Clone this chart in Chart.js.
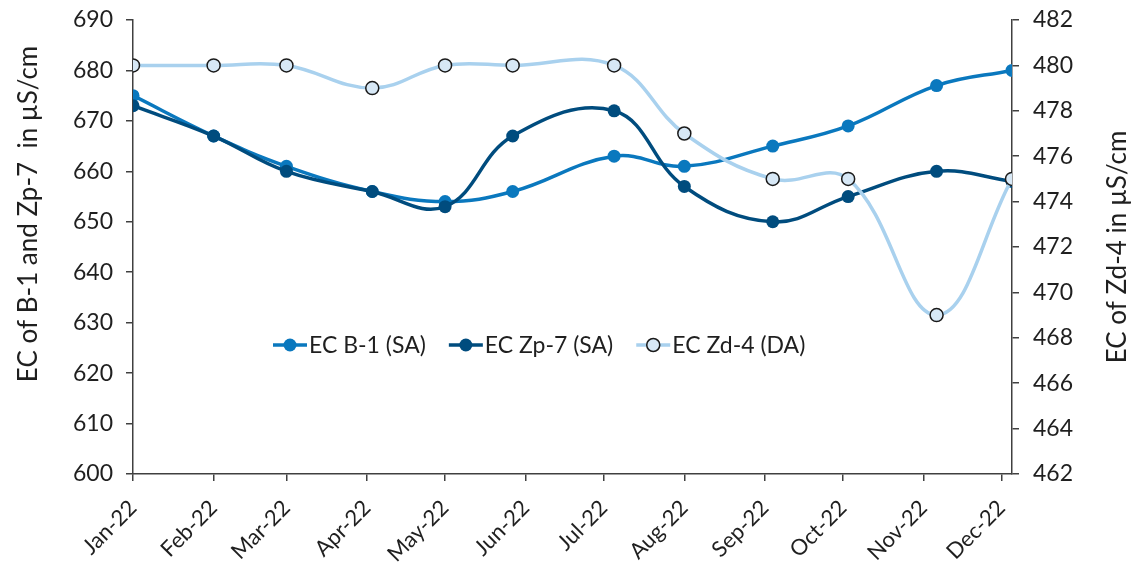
<!DOCTYPE html>
<html>
<head>
<meta charset="utf-8">
<script src="https://cdn.jsdelivr.net/npm/chart.js@4.4.1/dist/chart.umd.min.js"></script>
<style>
	html, body { margin: 0; padding: 0; background: #fff; }
	#wrap { width: 1137px; height: 565px; }
</style>
</head>
<body>
<div id="wrap"><canvas id="ec-chart" width="1137" height="565"></canvas></div>
<script>
// month ticks on the date axis
const monthLabels = ["Jan-22", "Feb-22", "Mar-22", "Apr-22", "May-22", "Jun-22",
	"Jul-22", "Aug-22", "Sep-22", "Oct-22", "Nov-22", "Dec-22"];
const monthStarts = ["2022-01-01", "2022-02-01", "2022-03-01", "2022-04-01", "2022-05-01", "2022-06-01",
	"2022-07-01", "2022-08-01", "2022-09-01", "2022-10-01", "2022-11-01", "2022-12-01"];

// sampling dates (points do not sit exactly on month starts)
const sampleDates = ["2022-01-01", "2022-02-01", "2022-03-01", "2022-04-03", "2022-05-01", "2022-05-27",
	"2022-07-05", "2022-08-01", "2022-09-04", "2022-10-03", "2022-11-06", "2022-12-05"];

const ecB1 = [675, 667, 661, 656, 654, 656, 663, 661, 665, 669, 677, 680];
const ecZp7 = [673, 667, 660, 656, 653, 667, 672, 657, 650, 655, 660, 658];
const ecZd4 = [480, 480, 480, 479, 480, 480, 480, 477, 475, 475, 469, 475];

const leftTicks = [600, 610, 620, 630, 640, 650, 660, 670, 680, 690];
const rightTicks = [462, 464, 466, 468, 470, 472, 474, 476, 478, 480, 482];

const FONT = "Lato";
const INK = "#1f1f1f";
const AXIS = "#404040";

const day0 = Date.parse("2022-01-01");
const dayOf = (d) => Math.round((Date.parse(d) - day0) / 86400000);
const pts = (vals) => vals.map((v, i) => ({ x: dayOf(sampleDates[i]), y: v }));

// axis titles drawn by hand so they can sit where Excel put them
const axisTitles = {
	id: "axisTitles",
	afterDraw(chart) {
		const ctx = chart.ctx;
		const draw = (text, cx, cy) => {
			ctx.save();
			ctx.fillStyle = INK;
			ctx.font = "26px " + FONT;
			ctx.textAlign = "center";
			ctx.textBaseline = "middle";
			ctx.translate(cx, cy);
			ctx.rotate(-Math.PI / 2);
			ctx.fillText(text, 0, 0);
			ctx.restore();
		};
		draw("EC of B-1 and Zp-7  in \u00b5S/cm", 29, 214);
		draw("EC of Zd-4 in \u00b5S/cm", 1118, 247);
	},
};

// Excel-style legend (line + marker) inside the plot area
const innerLegend = {
	id: "innerLegend",
	afterDraw(chart) {
		const ctx = chart.ctx;
		const y = 345;
		let x = 273;
		ctx.save();
		ctx.font = "23px " + FONT;
		ctx.textBaseline = "middle";
		chart.data.datasets.forEach((ds) => {
			ctx.strokeStyle = ds.borderColor;
			ctx.lineWidth = ds.borderWidth;
			ctx.beginPath();
			ctx.moveTo(x, y);
			ctx.lineTo(x + 34, y);
			ctx.stroke();
			ctx.beginPath();
			ctx.arc(x + 17, y, ds.pointRadius, 0, Math.PI * 2);
			ctx.fillStyle = ds.pointBackgroundColor;
			ctx.fill();
			if (ds.pointBorderWidth) {
				ctx.lineWidth = ds.pointBorderWidth;
				ctx.strokeStyle = ds.pointBorderColor;
				ctx.stroke();
			}
			ctx.fillStyle = INK;
			ctx.fillText(ds.label, x + 36, y + 1);
			x += 36 + ctx.measureText(ds.label).width + 23;
		});
		ctx.restore();
	},
};

const tickGrid = { display: true, drawOnChartArea: false, drawTicks: true, tickLength: 7, color: AXIS, lineWidth: 1.5 };

// fixed box sizes so the plot area lands where it does in the original
const fixVertical = (w) => (s) => {
	s.width = w;
	s.paddingTop = 0;
	s.paddingBottom = 0;
};

new Chart(document.getElementById("ec-chart"), {
	type: "line",
	data: {
		datasets: [
			{
				label: "EC B-1 (SA)",
				data: pts(ecB1),
				yAxisID: "y",
				borderColor: "#0a78be",
				backgroundColor: "#0a78be",
				pointBackgroundColor: "#0a78be",
				pointBorderColor: "#0a78be",
				pointBorderWidth: 0,
				pointRadius: 6.5,
				borderWidth: 3.5,
				tension: 0.4,
				order: 2,
			},
			{
				label: "EC Zp-7 (SA)",
				data: pts(ecZp7),
				yAxisID: "y",
				borderColor: "#004c7e",
				backgroundColor: "#004c7e",
				pointBackgroundColor: "#004c7e",
				pointBorderColor: "#004c7e",
				pointBorderWidth: 0,
				pointRadius: 6.5,
				borderWidth: 3.5,
				tension: 0.4,
				order: 1,
			},
			{
				label: "EC Zd-4 (DA)",
				data: pts(ecZd4),
				yAxisID: "y2",
				borderColor: "#a9d1ee",
				backgroundColor: "#d7e8f6",
				pointBackgroundColor: "#d7e8f6",
				pointBorderColor: "#1a1a1a",
				pointBorderWidth: 1.5,
				pointRadius: 6.5,
				borderWidth: 3.5,
				tension: 0.4,
				order: 0,
			},
		],
	},
	options: {
		responsive: false,
		animation: false,
		layout: { padding: { top: 20, left: 0, right: 0, bottom: 0 } },
		plugins: { legend: { display: false }, tooltip: { enabled: false } },
		scales: {
			x: {
				type: "linear",
				min: dayOf(sampleDates[0]),
				max: dayOf(sampleDates[sampleDates.length - 1]),
				afterBuildTicks: (s) => {
					s.ticks = monthStarts.map((d) => ({ value: dayOf(d) }));
				},
				afterFit: (s) => { s.height = 91; },
				grid: tickGrid,
				border: { display: true, color: AXIS, width: 1.5 },
				ticks: {
					autoSkip: false,
					maxRotation: 45,
					minRotation: 45,
					padding: 14,
					color: INK,
					font: { family: FONT, size: 22 },
					callback: (v, i) => monthLabels[i],
				},
			},
			y: {
				position: "left",
				min: 600,
				max: 690,
				afterBuildTicks: (s) => { s.ticks = leftTicks.map((v) => ({ value: v })); },
				afterFit: fixVertical(133),
				grid: tickGrid,
				border: { display: true, color: AXIS, width: 1.5 },
				ticks: { padding: 13, color: INK, font: { family: FONT, size: 23 } },
			},
			y2: {
				position: "right",
				min: 462,
				max: 482,
				afterBuildTicks: (s) => { s.ticks = rightTicks.map((v) => ({ value: v })); },
				afterFit: fixVertical(125),
				grid: tickGrid,
				border: { display: true, color: AXIS, width: 1.5 },
				ticks: { padding: 14, color: INK, font: { family: FONT, size: 23 } },
			},
		},
	},
	plugins: [axisTitles, innerLegend],
});
</script>
</body>
</html>
